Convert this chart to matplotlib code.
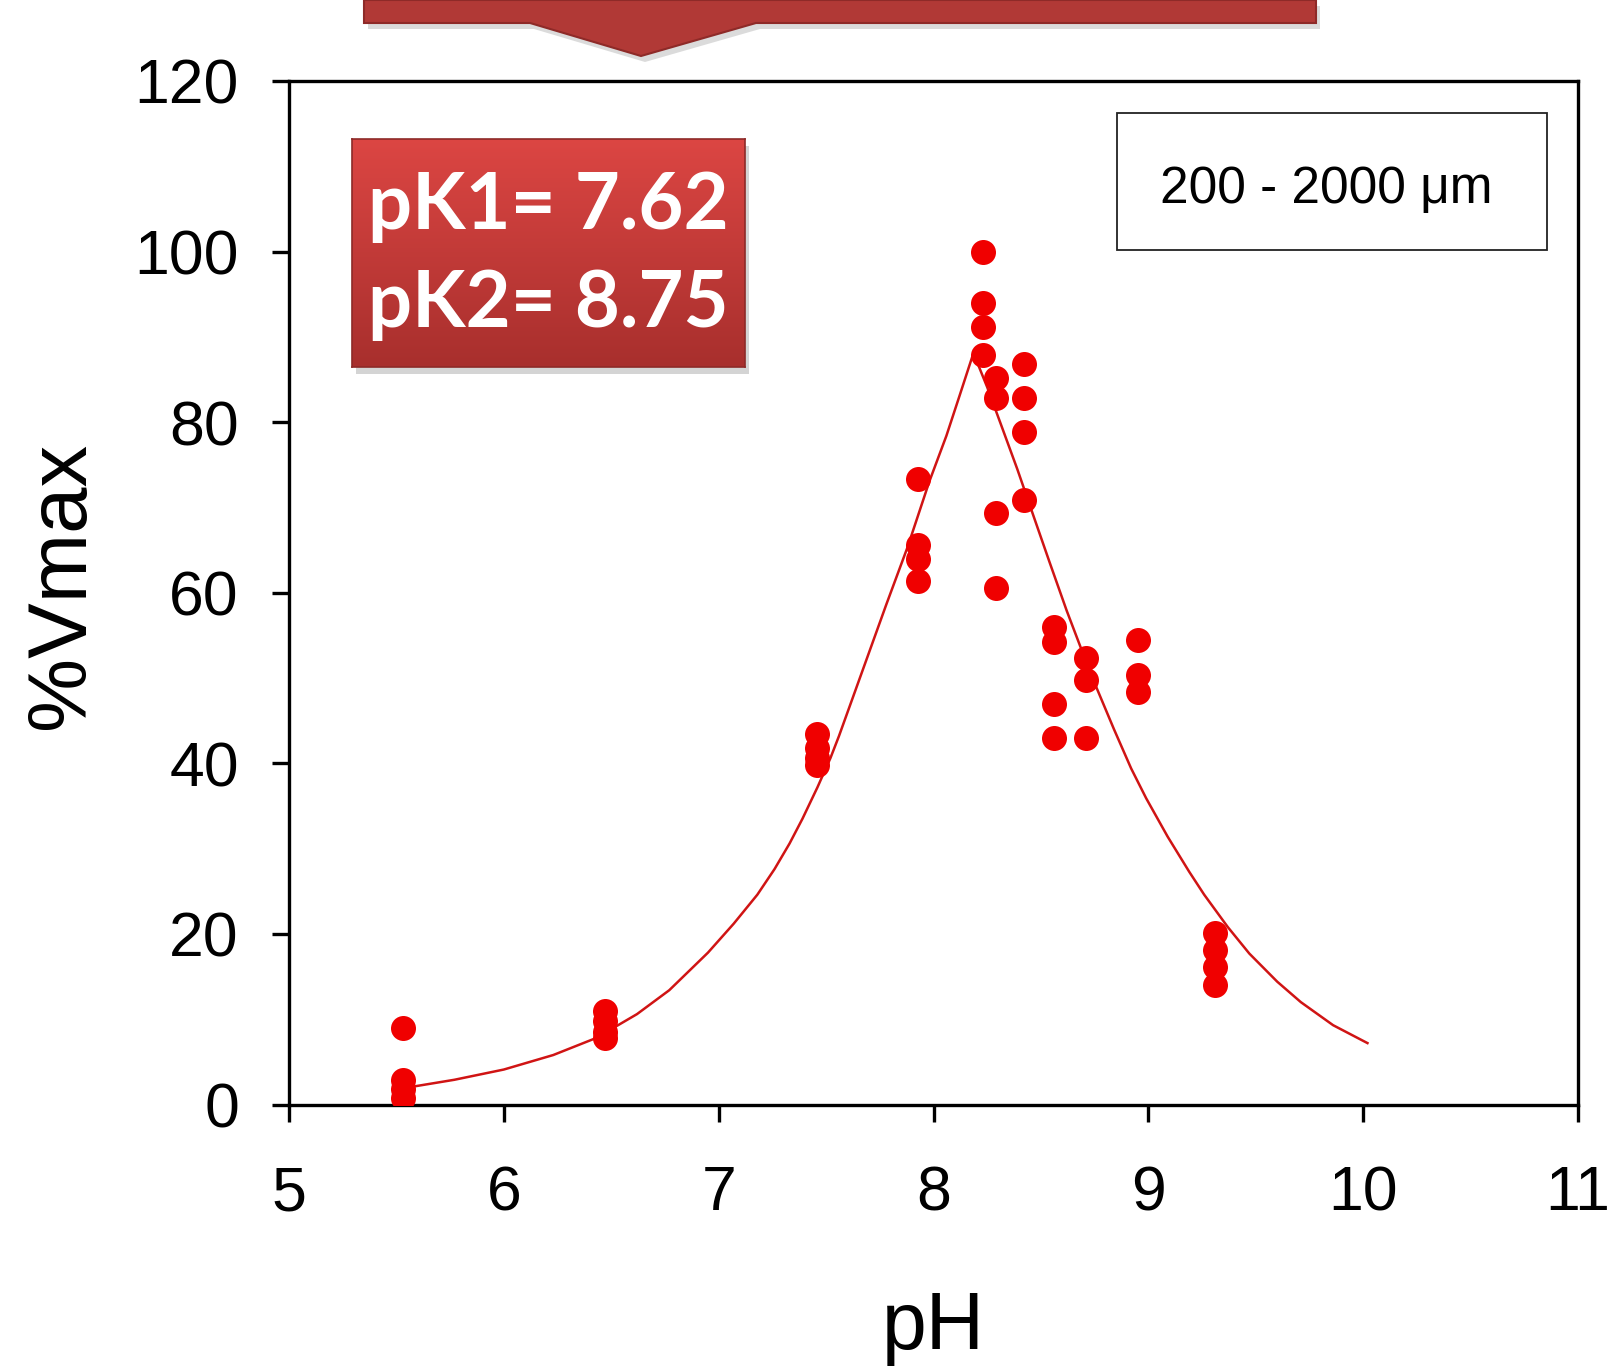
import numpy as np
import matplotlib
matplotlib.use("Agg")
import matplotlib.pyplot as plt
from matplotlib.patches import Rectangle, Polygon

plt.rcParams['font.family'] = ['Liberation Sans', 'DejaVu Sans']

# mediciones (%Vmax) agrupadas por pH
ph_points = [5.53] * 4 + [6.47] * 4 + [7.46] * 4 + [7.93] * 4 + [8.23] * 4 \
    + [8.29] * 4 + [8.42] * 4 + [8.56] * 4 + [8.71] * 3 + [8.95] * 3 + [9.31] * 4
vmax_points = [9.0, 2.9, 1.8, 0.8,
               11.0, 9.8, 8.5, 7.8,
               43.4, 41.8, 40.6, 39.8,
               73.3, 65.6, 63.9, 61.4,
               99.9, 94.0, 91.2, 87.9,
               85.2, 82.8, 69.3, 60.5,
               86.8, 82.8, 78.8, 70.9,
               56.0, 54.2, 47.0, 43.0,
               52.3, 49.8, 43.0,
               54.5, 50.4, 48.4,
               20.1, 18.1, 16.1, 14.0]

# curva de ajuste
fit_ph = [5.53, 5.77, 6.00, 6.23, 6.43, 6.62, 6.77, 6.95, 7.07, 7.18, 7.26,
          7.33, 7.39, 7.46, 7.52, 7.56, 7.66, 7.78, 7.88, 7.98, 8.06, 8.12,
          8.186, 8.25, 8.31, 8.39, 8.46, 8.54, 8.62, 8.70, 8.76, 8.84, 8.92,
          8.99, 9.09, 9.19, 9.26, 9.37, 9.47, 9.60, 9.71, 9.86, 10.02]
fit_vmax = [1.9, 2.9, 4.1, 5.8, 7.8, 10.6, 13.4, 17.8, 21.2, 24.6, 27.6,
            30.6, 33.5, 37.2, 40.6, 43.2, 50.2, 58.6, 65.4, 73.0, 78.4, 83.0,
            88.1, 84.1, 80.0, 74.5, 69.4, 63.6, 57.9, 52.6, 48.8, 44.0, 39.4,
            35.9, 31.4, 27.3, 24.6, 20.8, 17.7, 14.4, 12.0, 9.3, 7.2]

x_ticks = [5, 6, 7, 8, 9, 10, 11]
y_ticks = [0, 20, 40, 60, 80, 100, 120]
pk_lines = ["pK1= 7.62", "pK2= 8.75"]
size_label = "200 - 2000 \u03bcm"

W, H = 1611, 1367
fig = plt.figure(figsize=(W / 100, H / 100), dpi=100)
ax = fig.add_axes([289 / W, 1 - 1104.5 / H, 1289 / W, 1023.5 / H])

ax.plot(fit_ph, fit_vmax, '-', color='#d01414', lw=1.8, zorder=2)
ax.plot(ph_points, vmax_points, 'o', color='#f00000', ms=18, mec='none', zorder=3)

ax.set_xlim(5, 11)
ax.set_ylim(0, 120)
ax.set_xticks(x_ticks)
ax.set_yticks(y_ticks)
for s in ax.spines.values():
    s.set_linewidth(2.4)
ax.tick_params(direction='out', length=12, width=2.4, labelsize=45)
ax.tick_params(axis='y', pad=24)
ax.tick_params(axis='x', pad=31)

ax.set_xlabel('pH', fontsize=58, va='center')
ax.xaxis.set_label_coords(0.5, -0.218)
ax.set_ylabel('%Vmax', fontsize=60, va='center')
ax.yaxis.set_label_coords(-0.176, 0.507)

# recuadro del tamaño de partícula
ax.add_patch(Rectangle((0.642, 0.835), 0.334, 0.134, transform=ax.transAxes,
                       fill=False, ec='#222222', lw=1.3, zorder=4))
ax.text(0.805, 0.894, size_label, transform=ax.transAxes, fontsize=37,
        ha='center', va='center', zorder=5)

# cartel rojo superior con flecha
ban = [(364, 0), (1316, 0), (1316, 23), (756, 23), (641, 56), (530, 23), (364, 23)]
sh = [(x + 4, y + 6) for x, y in ban]
fig.add_artist(Polygon([(x / W, 1 - y / H) for x, y in sh], closed=True,
                       transform=fig.transFigure, fc='#999999', ec='none', alpha=0.35))
fig.add_artist(Polygon([(x / W, 1 - y / H) for x, y in ban], closed=True,
                       transform=fig.transFigure, fc='#b13936', ec='#8e2a28', lw=1.5))

# recuadro de pK con degradé (sombra detrás)
bx0, by0, bx1, by1 = 352, 139, 745, 367
shadow = fig.add_axes([(bx0 + 4) / W, 1 - (by1 + 7) / H, (bx1 - bx0) / W, (by1 - by0) / H])
shadow.set_axis_off()
shadow.add_patch(Rectangle((0, 0), 1, 1, transform=shadow.transAxes, fc='#aaaaaa',
                           ec='none', alpha=0.5))
shadow.set_zorder(4)

box = fig.add_axes([bx0 / W, 1 - by1 / H, (bx1 - bx0) / W, (by1 - by0) / H])
box.set_zorder(5)
grad = np.linspace(0, 1, 256).reshape(-1, 1)
cmap = matplotlib.colors.LinearSegmentedColormap.from_list('rojo', ['#dc4643', '#a82f2d'])
box.imshow(grad, aspect='auto', cmap=cmap, extent=[0, 1, 0, 1], origin='upper')
box.set_xlim(0, 1)
box.set_ylim(0, 1)
box.set_xticks([])
box.set_yticks([])
for s in box.spines.values():
    s.set_color('#8e2a28')
    s.set_linewidth(1.2)
box.text(0.50, 0.70, pk_lines[0], color='white', fontsize=56, fontweight='bold',
         family='Lato', ha='center', va='center')
box.text(0.50, 0.27, pk_lines[1], color='white', fontsize=56, fontweight='bold',
         family='Lato', ha='center', va='center')

fig.savefig('out.png', dpi=100)
